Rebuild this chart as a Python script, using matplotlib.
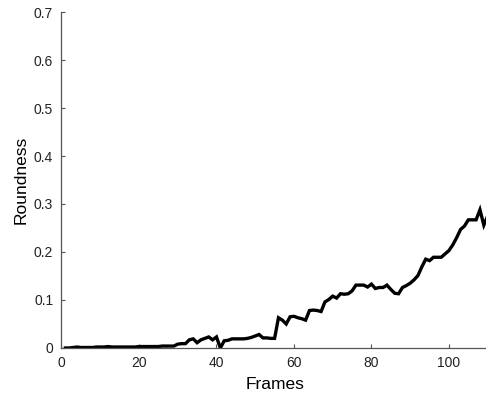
import matplotlib
matplotlib.use("Agg")
import matplotlib.pyplot as plt

# roundness per frame
frames = list(range(1, 111))
roundness = [
    0.000, 0.000, 0.001, 0.002, 0.001, 0.001, 0.001, 0.001, 0.002, 0.002,
    0.002, 0.003, 0.002, 0.002, 0.002, 0.002, 0.002, 0.002, 0.002, 0.003,
    0.003, 0.003, 0.003, 0.003, 0.003, 0.004, 0.004, 0.004, 0.004, 0.008,
    0.009, 0.009, 0.017, 0.019, 0.011, 0.017, 0.020, 0.023, 0.017, 0.023,
    0.000, 0.015, 0.016, 0.019, 0.019, 0.019, 0.019, 0.020, 0.022, 0.025,
    0.028, 0.021, 0.021, 0.020, 0.020, 0.063, 0.058, 0.050, 0.065, 0.066,
    0.063, 0.061, 0.058, 0.078, 0.079, 0.078, 0.076, 0.096, 0.101, 0.108,
    0.104, 0.113, 0.112, 0.113, 0.119, 0.131, 0.131, 0.131, 0.127, 0.133,
    0.124, 0.126, 0.126, 0.131, 0.122, 0.114, 0.113, 0.126, 0.130, 0.135,
    0.142, 0.151, 0.169, 0.185, 0.182, 0.189, 0.189, 0.189, 0.196, 0.203,
    0.215, 0.230, 0.247, 0.254, 0.267, 0.267, 0.267, 0.288, 0.256, 0.275,
]
xticks = [0, 20, 40, 60, 80, 100]
yticks = [0, 0.1, 0.2, 0.3, 0.4, 0.5, 0.6, 0.7]
ylabels = ["0", "0.1", "0.2", "0.3", "0.4", "0.5", "0.6", "0.7"]

plt.rcParams['font.family'] = ['Liberation Sans', 'DejaVu Sans']

fig = plt.figure(figsize=(4.86, 3.94), dpi=100)
ax = fig.add_axes([0.1265, 0.1168, 0.877, 0.8527])

ax.plot(frames, roundness, color='black', linewidth=2.4, solid_joinstyle='miter')

ax.set_xlim(0, 110)
ax.set_ylim(0, 0.7)
ax.set_xticks(xticks)
ax.set_yticks(yticks)
ax.set_yticklabels(ylabels)
ax.tick_params(direction='in', length=3, width=0.8, color='#555555',
               labelsize=10, labelcolor='#222222')
ax.tick_params(axis='x', pad=6)
ax.tick_params(axis='y', pad=6)

for s in ['top', 'right']:
    ax.spines[s].set_visible(False)
for s in ['left', 'bottom']:
    ax.spines[s].set_color('#555555')
    ax.spines[s].set_linewidth(0.9)

ax.set_xlabel("Frames", fontsize=12.5, labelpad=5)
ax.set_ylabel("Roundness", fontsize=12.5, labelpad=4)

fig.savefig("out.png", dpi=100)
